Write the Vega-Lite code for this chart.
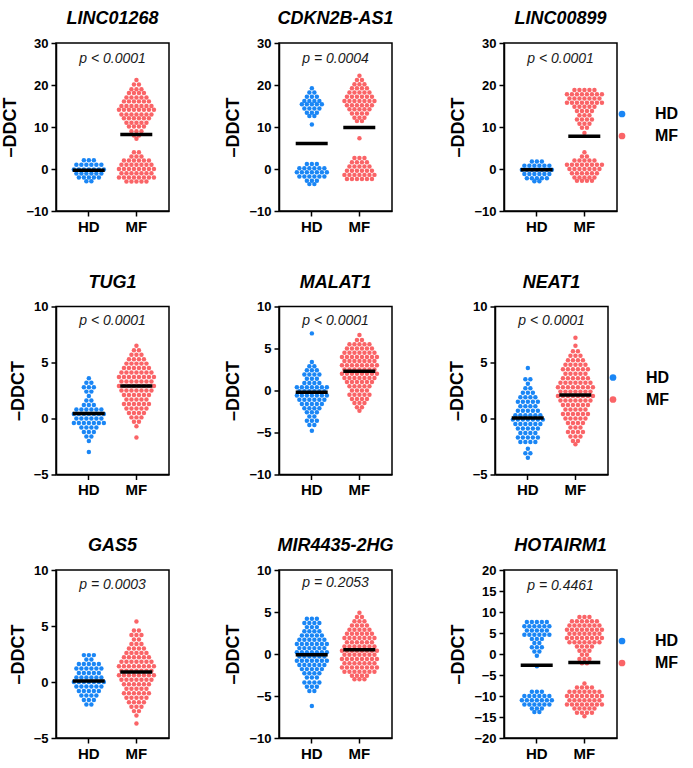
{
"$schema":"https://vega.github.io/schema/vega-lite/v6.json",
"background":"white",
"padding":{"left":1,"top":9,"right":0,"bottom":0},
"config":{
 "view":{"stroke":"black","strokeWidth":1.5},
 "title":{"fontSize":18,"fontWeight":"bold","fontStyle":"italic","font":"Liberation Sans","offset":9,"color":"black"},
 "axis":{"domainColor":"black","domainWidth":1.5,"tickColor":"black","tickWidth":1.5,"tickSize":5,"labelColor":"black","titleColor":"black","labelFont":"Liberation Sans","titleFont":"Liberation Sans","grid":false,"labelPadding":3,"labelFontWeight":"bold"},
 "axisY":{"labelFontSize":13,"titleFontSize":18,"titleFontWeight":"bold","titlePadding":6,"labelOverlap":false},
 "axisX":{"labelFontSize":15,"labelAngle":0}
},
"datasets":{
"means":[
{"g":"LINC01268","c":"HD","v":-0.3},{"g":"LINC01268","c":"MF","v":8.2},
{"g":"CDKN2B-AS1","c":"HD","v":6.1},{"g":"CDKN2B-AS1","c":"MF","v":9.9},
{"g":"LINC00899","c":"HD","v":-0.2},{"g":"LINC00899","c":"MF","v":7.8},
{"g":"TUG1","c":"HD","v":0.45},{"g":"TUG1","c":"MF","v":2.9},
{"g":"MALAT1","c":"HD","v":-0.2},{"g":"MALAT1","c":"MF","v":2.3},
{"g":"NEAT1","c":"HD","v":0.05},{"g":"NEAT1","c":"MF","v":2.1},
{"g":"GAS5","c":"HD","v":0.1},{"g":"GAS5","c":"MF","v":0.9},
{"g":"MIR4435-2HG","c":"HD","v":-0.1},{"g":"MIR4435-2HG","c":"MF","v":0.5},
{"g":"HOTAIRM1","c":"HD","v":-2.7},{"g":"HOTAIRM1","c":"MF","v":-2.0}
],
"pvals":[
{"g":"LINC01268","p":"p < 0.0001"},{"g":"CDKN2B-AS1","p":"p =  0.0004"},{"g":"LINC00899","p":"p < 0.0001"},
{"g":"TUG1","p":"p < 0.0001"},{"g":"MALAT1","p":"p < 0.0001"},{"g":"NEAT1","p":"p < 0.0001"},
{"g":"GAS5","p":"p = 0.0003"},{"g":"MIR4435-2HG","p":"p = 0.2053"},{"g":"HOTAIRM1","p":"p = 0.4461"}
],
"LINC01268_HD":[
{"v":2.1,"j":-2},{"v":2.1,"j":0},{"v":2.1,"j":2},
{"v":1,"j":-5},{"v":1,"j":-3},{"v":1,"j":-1},{"v":1,"j":1},{"v":1,"j":3},{"v":1,"j":5},
{"v":-0.1,"j":-6},{"v":-0.1,"j":-4},{"v":-0.1,"j":-2},{"v":-0.1,"j":0},{"v":-0.1,"j":2},{"v":-0.1,"j":4},{"v":-0.1,"j":6},
{"v":-1.1,"j":-5},{"v":-1.1,"j":-3},{"v":-1.1,"j":-1},{"v":-1.1,"j":1},{"v":-1.1,"j":3},{"v":-1.1,"j":5},
{"v":-2,"j":-4},{"v":-2,"j":-2},{"v":-2,"j":0},{"v":-2,"j":2},{"v":-2,"j":4},
{"v":-2.9,"j":-1},{"v":-2.9,"j":1}
],
"LINC01268_MF":[
{"v":21.2,"j":0},
{"v":20.1,"j":-1},{"v":20.1,"j":1},
{"v":19,"j":-2},{"v":19,"j":0},{"v":19,"j":2},
{"v":18.1,"j":-3},{"v":18.1,"j":-1},{"v":18.1,"j":1},{"v":18.1,"j":3},
{"v":17,"j":-4},{"v":17,"j":-2},{"v":17,"j":0},{"v":17,"j":2},{"v":17,"j":4},
{"v":16.1,"j":-5},{"v":16.1,"j":-3},{"v":16.1,"j":-1},{"v":16.1,"j":1},{"v":16.1,"j":3},{"v":16.1,"j":5},
{"v":15,"j":-6},{"v":15,"j":-4},{"v":15,"j":-2},{"v":15,"j":0},{"v":15,"j":2},{"v":15,"j":4},{"v":15,"j":6},
{"v":14.1,"j":-7},{"v":14.1,"j":-5},{"v":14.1,"j":-3},{"v":14.1,"j":-1},{"v":14.1,"j":1},{"v":14.1,"j":3},{"v":14.1,"j":5},{"v":14.1,"j":7},
{"v":13,"j":-6},{"v":13,"j":-4},{"v":13,"j":-2},{"v":13,"j":0},{"v":13,"j":2},{"v":13,"j":4},{"v":13,"j":6},
{"v":12.1,"j":-5},{"v":12.1,"j":-3},{"v":12.1,"j":-1},{"v":12.1,"j":1},{"v":12.1,"j":3},{"v":12.1,"j":5},
{"v":11,"j":-4},{"v":11,"j":-2},{"v":11,"j":0},{"v":11,"j":2},{"v":11,"j":4},
{"v":10.1,"j":-3},{"v":10.1,"j":-1},{"v":10.1,"j":1},{"v":10.1,"j":3},
{"v":9,"j":-2},{"v":9,"j":0},{"v":9,"j":2},
{"v":8,"j":-1},{"v":8,"j":1},
{"v":7.2,"j":0},
{"v":4,"j":-1},{"v":4,"j":1},
{"v":3,"j":-2},{"v":3,"j":0},{"v":3,"j":2},
{"v":2,"j":-5},{"v":2,"j":-3},{"v":2,"j":-1},{"v":2,"j":1},{"v":2,"j":3},{"v":2,"j":5},
{"v":1,"j":-6},{"v":1,"j":-4},{"v":1,"j":-2},{"v":1,"j":0},{"v":1,"j":2},{"v":1,"j":4},{"v":1,"j":6},
{"v":0,"j":-7},{"v":0,"j":-5},{"v":0,"j":-3},{"v":0,"j":-1},{"v":0,"j":1},{"v":0,"j":3},{"v":0,"j":5},{"v":0,"j":7},
{"v":-1,"j":-6},{"v":-1,"j":-4},{"v":-1,"j":-2},{"v":-1,"j":0},{"v":-1,"j":2},{"v":-1,"j":4},{"v":-1,"j":6},
{"v":-2,"j":-7},{"v":-2,"j":-5},{"v":-2,"j":-3},{"v":-2,"j":-1},{"v":-2,"j":1},{"v":-2,"j":3},{"v":-2,"j":5},{"v":-2,"j":7},
{"v":-3,"j":-4},{"v":-3,"j":-2},{"v":-3,"j":0},{"v":-3,"j":2},{"v":-3,"j":4}
],
"CDKN2B-AS1_HD":[
{"v":19.2,"j":0},
{"v":18.2,"j":-1},{"v":18.2,"j":1},
{"v":17.2,"j":-2},{"v":17.2,"j":0},{"v":17.2,"j":2},
{"v":16.2,"j":-3},{"v":16.2,"j":-1},{"v":16.2,"j":1},{"v":16.2,"j":3},
{"v":15.4,"j":-4},{"v":15.4,"j":-2},{"v":15.4,"j":0},{"v":15.4,"j":2},{"v":15.4,"j":4},
{"v":14.4,"j":-3},{"v":14.4,"j":-1},{"v":14.4,"j":1},{"v":14.4,"j":3},
{"v":13.4,"j":-2},{"v":13.4,"j":0},{"v":13.4,"j":2},
{"v":12.6,"j":-1},{"v":12.6,"j":1},
{"v":10.6,"j":0},
{"v":1.2,"j":-2},{"v":1.2,"j":0},{"v":1.2,"j":2},
{"v":0.2,"j":-5},{"v":0.2,"j":-3},{"v":0.2,"j":-1},{"v":0.2,"j":1},{"v":0.2,"j":3},{"v":0.2,"j":5},
{"v":-0.8,"j":-6},{"v":-0.8,"j":-4},{"v":-0.8,"j":-2},{"v":-0.8,"j":0},{"v":-0.8,"j":2},{"v":-0.8,"j":4},{"v":-0.8,"j":6},
{"v":-1.8,"j":-5},{"v":-1.8,"j":-3},{"v":-1.8,"j":-1},{"v":-1.8,"j":1},{"v":-1.8,"j":3},{"v":-1.8,"j":5},
{"v":-2.8,"j":-2},{"v":-2.8,"j":0},{"v":-2.8,"j":2},
{"v":-3.6,"j":-1},{"v":-3.6,"j":1}
],
"CDKN2B-AS1_MF":[
{"v":22.2,"j":0},
{"v":21.2,"j":-1},{"v":21.2,"j":1},
{"v":20.2,"j":-2},{"v":20.2,"j":0},{"v":20.2,"j":2},
{"v":19.2,"j":-3},{"v":19.2,"j":-1},{"v":19.2,"j":1},{"v":19.2,"j":3},
{"v":18.2,"j":-4},{"v":18.2,"j":-2},{"v":18.2,"j":0},{"v":18.2,"j":2},{"v":18.2,"j":4},
{"v":17.2,"j":-5},{"v":17.2,"j":-3},{"v":17.2,"j":-1},{"v":17.2,"j":1},{"v":17.2,"j":3},{"v":17.2,"j":5},
{"v":16.2,"j":-6},{"v":16.2,"j":-4},{"v":16.2,"j":-2},{"v":16.2,"j":0},{"v":16.2,"j":2},{"v":16.2,"j":4},{"v":16.2,"j":6},
{"v":15.2,"j":-5},{"v":15.2,"j":-3},{"v":15.2,"j":-1},{"v":15.2,"j":1},{"v":15.2,"j":3},{"v":15.2,"j":5},
{"v":14.2,"j":-4},{"v":14.2,"j":-2},{"v":14.2,"j":0},{"v":14.2,"j":2},{"v":14.2,"j":4},
{"v":13.2,"j":-3},{"v":13.2,"j":-1},{"v":13.2,"j":1},{"v":13.2,"j":3},
{"v":12.2,"j":-2},{"v":12.2,"j":0},{"v":12.2,"j":2},
{"v":11.4,"j":-1},{"v":11.4,"j":1},
{"v":7.3,"j":0},
{"v":2.6,"j":-2},{"v":2.6,"j":0},{"v":2.6,"j":2},
{"v":1.6,"j":-3},{"v":1.6,"j":-1},{"v":1.6,"j":1},{"v":1.6,"j":3},
{"v":0.6,"j":-4},{"v":0.6,"j":-2},{"v":0.6,"j":0},{"v":0.6,"j":2},{"v":0.6,"j":4},
{"v":-0.4,"j":-5},{"v":-0.4,"j":-3},{"v":-0.4,"j":-1},{"v":-0.4,"j":1},{"v":-0.4,"j":3},{"v":-0.4,"j":5},
{"v":-1.4,"j":-6},{"v":-1.4,"j":-4},{"v":-1.4,"j":-2},{"v":-1.4,"j":0},{"v":-1.4,"j":2},{"v":-1.4,"j":4},{"v":-1.4,"j":6},
{"v":-2.4,"j":-5},{"v":-2.4,"j":-3},{"v":-2.4,"j":-1},{"v":-2.4,"j":1},{"v":-2.4,"j":3},{"v":-2.4,"j":5}
],
"LINC00899_HD":[
{"v":1.8,"j":-2},{"v":1.8,"j":0},{"v":1.8,"j":2},
{"v":0.8,"j":-5},{"v":0.8,"j":-3},{"v":0.8,"j":-1},{"v":0.8,"j":1},{"v":0.8,"j":3},{"v":0.8,"j":5},
{"v":-0.2,"j":-6},{"v":-0.2,"j":-4},{"v":-0.2,"j":-2},{"v":-0.2,"j":0},{"v":-0.2,"j":2},{"v":-0.2,"j":4},{"v":-0.2,"j":6},
{"v":-1.2,"j":-5},{"v":-1.2,"j":-3},{"v":-1.2,"j":-1},{"v":-1.2,"j":1},{"v":-1.2,"j":3},{"v":-1.2,"j":5},
{"v":-2.2,"j":-4},{"v":-2.2,"j":-2},{"v":-2.2,"j":0},{"v":-2.2,"j":2},{"v":-2.2,"j":4},
{"v":-2.9,"j":-1},{"v":-2.9,"j":1}
],
"LINC00899_MF":[
{"v":18.8,"j":-4},{"v":18.8,"j":-2},{"v":18.8,"j":0},{"v":18.8,"j":2},{"v":18.8,"j":4},
{"v":17.8,"j":-7},{"v":17.8,"j":-5},{"v":17.8,"j":-3},{"v":17.8,"j":-1},{"v":17.8,"j":1},{"v":17.8,"j":3},{"v":17.8,"j":5},{"v":17.8,"j":7},
{"v":16.8,"j":-6},{"v":16.8,"j":-4},{"v":16.8,"j":-2},{"v":16.8,"j":0},{"v":16.8,"j":2},{"v":16.8,"j":4},{"v":16.8,"j":6},
{"v":15.8,"j":-7},{"v":15.8,"j":-5},{"v":15.8,"j":-3},{"v":15.8,"j":-1},{"v":15.8,"j":1},{"v":15.8,"j":3},{"v":15.8,"j":5},{"v":15.8,"j":7},
{"v":14.8,"j":-4},{"v":14.8,"j":-2},{"v":14.8,"j":0},{"v":14.8,"j":2},{"v":14.8,"j":4},
{"v":13.8,"j":-3},{"v":13.8,"j":-1},{"v":13.8,"j":1},{"v":13.8,"j":3},
{"v":12.8,"j":-2},{"v":12.8,"j":0},{"v":12.8,"j":2},
{"v":11.8,"j":-3},{"v":11.8,"j":-1},{"v":11.8,"j":1},{"v":11.8,"j":3},
{"v":10.8,"j":-2},{"v":10.8,"j":0},{"v":10.8,"j":2},
{"v":9.8,"j":-1},{"v":9.8,"j":1},
{"v":8.6,"j":0},
{"v":4,"j":0},
{"v":3,"j":-1},{"v":3,"j":1},
{"v":2,"j":-4},{"v":2,"j":-2},{"v":2,"j":0},{"v":2,"j":2},{"v":2,"j":4},
{"v":1,"j":-7},{"v":1,"j":-5},{"v":1,"j":-3},{"v":1,"j":-1},{"v":1,"j":1},{"v":1,"j":3},{"v":1,"j":5},{"v":1,"j":7},
{"v":0,"j":-6},{"v":0,"j":-4},{"v":0,"j":-2},{"v":0,"j":0},{"v":0,"j":2},{"v":0,"j":4},{"v":0,"j":6},
{"v":-1,"j":-5},{"v":-1,"j":-3},{"v":-1,"j":-1},{"v":-1,"j":1},{"v":-1,"j":3},{"v":-1,"j":5},
{"v":-2,"j":-4},{"v":-2,"j":-2},{"v":-2,"j":0},{"v":-2,"j":2},{"v":-2,"j":4},
{"v":-2.8,"j":-3},{"v":-2.8,"j":-1},{"v":-2.8,"j":1},{"v":-2.8,"j":3}
],
"TUG1_HD":[
{"v":3.6,"j":0},
{"v":3.2,"j":-1},{"v":3.2,"j":1},
{"v":2.8,"j":-2},{"v":2.8,"j":0},{"v":2.8,"j":2},
{"v":2.4,"j":-1},{"v":2.4,"j":1},
{"v":2,"j":0},
{"v":1.6,"j":-1},{"v":1.6,"j":1},
{"v":1.2,"j":-2},{"v":1.2,"j":0},{"v":1.2,"j":2},
{"v":0.8,"j":-5},{"v":0.8,"j":-3},{"v":0.8,"j":-1},{"v":0.8,"j":1},{"v":0.8,"j":3},{"v":0.8,"j":5},
{"v":0.4,"j":-6},{"v":0.4,"j":-4},{"v":0.4,"j":-2},{"v":0.4,"j":0},{"v":0.4,"j":2},{"v":0.4,"j":4},{"v":0.4,"j":6},
{"v":0,"j":-5},{"v":0,"j":-3},{"v":0,"j":-1},{"v":0,"j":1},{"v":0,"j":3},{"v":0,"j":5},
{"v":-0.4,"j":-6},{"v":-0.4,"j":-4},{"v":-0.4,"j":-2},{"v":-0.4,"j":0},{"v":-0.4,"j":2},{"v":-0.4,"j":4},{"v":-0.4,"j":6},
{"v":-0.8,"j":-3},{"v":-0.8,"j":-1},{"v":-0.8,"j":1},{"v":-0.8,"j":3},
{"v":-1.2,"j":-2},{"v":-1.2,"j":0},{"v":-1.2,"j":2},
{"v":-1.6,"j":-1},{"v":-1.6,"j":1},
{"v":-2,"j":0},
{"v":-3,"j":0}
],
"TUG1_MF":[
{"v":6.5,"j":0},
{"v":6.1,"j":-1},{"v":6.1,"j":1},
{"v":5.7,"j":-2},{"v":5.7,"j":0},{"v":5.7,"j":2},
{"v":5.3,"j":-3},{"v":5.3,"j":-1},{"v":5.3,"j":1},{"v":5.3,"j":3},
{"v":4.9,"j":-4},{"v":4.9,"j":-2},{"v":4.9,"j":0},{"v":4.9,"j":2},{"v":4.9,"j":4},
{"v":4.5,"j":-5},{"v":4.5,"j":-3},{"v":4.5,"j":-1},{"v":4.5,"j":1},{"v":4.5,"j":3},{"v":4.5,"j":5},
{"v":4.1,"j":-6},{"v":4.1,"j":-4},{"v":4.1,"j":-2},{"v":4.1,"j":0},{"v":4.1,"j":2},{"v":4.1,"j":4},{"v":4.1,"j":6},
{"v":3.7,"j":-7},{"v":3.7,"j":-5},{"v":3.7,"j":-3},{"v":3.7,"j":-1},{"v":3.7,"j":1},{"v":3.7,"j":3},{"v":3.7,"j":5},{"v":3.7,"j":7},
{"v":3.3,"j":-6},{"v":3.3,"j":-4},{"v":3.3,"j":-2},{"v":3.3,"j":0},{"v":3.3,"j":2},{"v":3.3,"j":4},{"v":3.3,"j":6},
{"v":2.9,"j":-7},{"v":2.9,"j":-5},{"v":2.9,"j":-3},{"v":2.9,"j":-1},{"v":2.9,"j":1},{"v":2.9,"j":3},{"v":2.9,"j":5},{"v":2.9,"j":7},
{"v":2.5,"j":-6},{"v":2.5,"j":-4},{"v":2.5,"j":-2},{"v":2.5,"j":0},{"v":2.5,"j":2},{"v":2.5,"j":4},{"v":2.5,"j":6},
{"v":2.1,"j":-5},{"v":2.1,"j":-3},{"v":2.1,"j":-1},{"v":2.1,"j":1},{"v":2.1,"j":3},{"v":2.1,"j":5},
{"v":1.7,"j":-4},{"v":1.7,"j":-2},{"v":1.7,"j":0},{"v":1.7,"j":2},{"v":1.7,"j":4},
{"v":1.3,"j":-5},{"v":1.3,"j":-3},{"v":1.3,"j":-1},{"v":1.3,"j":1},{"v":1.3,"j":3},{"v":1.3,"j":5},
{"v":0.9,"j":-4},{"v":0.9,"j":-2},{"v":0.9,"j":0},{"v":0.9,"j":2},{"v":0.9,"j":4},
{"v":0.5,"j":-3},{"v":0.5,"j":-1},{"v":0.5,"j":1},{"v":0.5,"j":3},
{"v":0.1,"j":-2},{"v":0.1,"j":0},{"v":0.1,"j":2},
{"v":-0.3,"j":-1},{"v":-0.3,"j":1},
{"v":-0.7,"j":0},
{"v":-1.7,"j":0}
],
"MALAT1_HD":[
{"v":6.8,"j":0},
{"v":3.4,"j":0},
{"v":2.9,"j":-1},{"v":2.9,"j":1},
{"v":2.4,"j":-2},{"v":2.4,"j":0},{"v":2.4,"j":2},
{"v":1.9,"j":-3},{"v":1.9,"j":-1},{"v":1.9,"j":1},{"v":1.9,"j":3},
{"v":1.4,"j":-2},{"v":1.4,"j":0},{"v":1.4,"j":2},
{"v":0.9,"j":-3},{"v":0.9,"j":-1},{"v":0.9,"j":1},{"v":0.9,"j":3},
{"v":0.4,"j":-6},{"v":0.4,"j":-4},{"v":0.4,"j":-2},{"v":0.4,"j":0},{"v":0.4,"j":2},{"v":0.4,"j":4},{"v":0.4,"j":6},
{"v":-0.1,"j":-5},{"v":-0.1,"j":-3},{"v":-0.1,"j":-1},{"v":-0.1,"j":1},{"v":-0.1,"j":3},{"v":-0.1,"j":5},
{"v":-0.6,"j":-6},{"v":-0.6,"j":-4},{"v":-0.6,"j":-2},{"v":-0.6,"j":0},{"v":-0.6,"j":2},{"v":-0.6,"j":4},{"v":-0.6,"j":6},
{"v":-1.1,"j":-5},{"v":-1.1,"j":-3},{"v":-1.1,"j":-1},{"v":-1.1,"j":1},{"v":-1.1,"j":3},{"v":-1.1,"j":5},
{"v":-1.6,"j":-4},{"v":-1.6,"j":-2},{"v":-1.6,"j":0},{"v":-1.6,"j":2},{"v":-1.6,"j":4},
{"v":-2.1,"j":-3},{"v":-2.1,"j":-1},{"v":-2.1,"j":1},{"v":-2.1,"j":3},
{"v":-2.6,"j":-2},{"v":-2.6,"j":0},{"v":-2.6,"j":2},
{"v":-3.1,"j":-1},{"v":-3.1,"j":1},
{"v":-3.6,"j":-2},{"v":-3.6,"j":0},{"v":-3.6,"j":2},
{"v":-4.1,"j":-1},{"v":-4.1,"j":1},
{"v":-4.8,"j":0}
],
"MALAT1_MF":[
{"v":6.6,"j":0},
{"v":6,"j":-1},{"v":6,"j":1},
{"v":5.5,"j":-4},{"v":5.5,"j":-2},{"v":5.5,"j":0},{"v":5.5,"j":2},{"v":5.5,"j":4},
{"v":5,"j":-5},{"v":5,"j":-3},{"v":5,"j":-1},{"v":5,"j":1},{"v":5,"j":3},{"v":5,"j":5},
{"v":4.5,"j":-6},{"v":4.5,"j":-4},{"v":4.5,"j":-2},{"v":4.5,"j":0},{"v":4.5,"j":2},{"v":4.5,"j":4},{"v":4.5,"j":6},
{"v":4,"j":-7},{"v":4,"j":-5},{"v":4,"j":-3},{"v":4,"j":-1},{"v":4,"j":1},{"v":4,"j":3},{"v":4,"j":5},{"v":4,"j":7},
{"v":3.5,"j":-6},{"v":3.5,"j":-4},{"v":3.5,"j":-2},{"v":3.5,"j":0},{"v":3.5,"j":2},{"v":3.5,"j":4},{"v":3.5,"j":6},
{"v":3,"j":-7},{"v":3,"j":-5},{"v":3,"j":-3},{"v":3,"j":-1},{"v":3,"j":1},{"v":3,"j":3},{"v":3,"j":5},{"v":3,"j":7},
{"v":2.5,"j":-6},{"v":2.5,"j":-4},{"v":2.5,"j":-2},{"v":2.5,"j":0},{"v":2.5,"j":2},{"v":2.5,"j":4},{"v":2.5,"j":6},
{"v":2,"j":-7},{"v":2,"j":-5},{"v":2,"j":-3},{"v":2,"j":-1},{"v":2,"j":1},{"v":2,"j":3},{"v":2,"j":5},{"v":2,"j":7},
{"v":1.5,"j":-6},{"v":1.5,"j":-4},{"v":1.5,"j":-2},{"v":1.5,"j":0},{"v":1.5,"j":2},{"v":1.5,"j":4},{"v":1.5,"j":6},
{"v":1,"j":-5},{"v":1,"j":-3},{"v":1,"j":-1},{"v":1,"j":1},{"v":1,"j":3},{"v":1,"j":5},
{"v":0.5,"j":-4},{"v":0.5,"j":-2},{"v":0.5,"j":0},{"v":0.5,"j":2},{"v":0.5,"j":4},
{"v":0,"j":-3},{"v":0,"j":-1},{"v":0,"j":1},{"v":0,"j":3},
{"v":-0.5,"j":-4},{"v":-0.5,"j":-2},{"v":-0.5,"j":0},{"v":-0.5,"j":2},{"v":-0.5,"j":4},
{"v":-1,"j":-3},{"v":-1,"j":-1},{"v":-1,"j":1},{"v":-1,"j":3},
{"v":-1.5,"j":-2},{"v":-1.5,"j":0},{"v":-1.5,"j":2},
{"v":-2,"j":-1},{"v":-2,"j":1},
{"v":-2.4,"j":0}
],
"NEAT1_HD":[
{"v":4.5,"j":0},
{"v":3.5,"j":-1},{"v":3.5,"j":1},
{"v":3.1,"j":0},
{"v":2.7,"j":-1},{"v":2.7,"j":1},
{"v":2.3,"j":-2},{"v":2.3,"j":0},{"v":2.3,"j":2},
{"v":1.9,"j":-3},{"v":1.9,"j":-1},{"v":1.9,"j":1},{"v":1.9,"j":3},
{"v":1.5,"j":-4},{"v":1.5,"j":-2},{"v":1.5,"j":0},{"v":1.5,"j":2},{"v":1.5,"j":4},
{"v":1.1,"j":-3},{"v":1.1,"j":-1},{"v":1.1,"j":1},{"v":1.1,"j":3},
{"v":0.7,"j":-4},{"v":0.7,"j":-2},{"v":0.7,"j":0},{"v":0.7,"j":2},{"v":0.7,"j":4},
{"v":0.3,"j":-5},{"v":0.3,"j":-3},{"v":0.3,"j":-1},{"v":0.3,"j":1},{"v":0.3,"j":3},{"v":0.3,"j":5},
{"v":-0.1,"j":-6},{"v":-0.1,"j":-4},{"v":-0.1,"j":-2},{"v":-0.1,"j":0},{"v":-0.1,"j":2},{"v":-0.1,"j":4},{"v":-0.1,"j":6},
{"v":-0.5,"j":-5},{"v":-0.5,"j":-3},{"v":-0.5,"j":-1},{"v":-0.5,"j":1},{"v":-0.5,"j":3},{"v":-0.5,"j":5},
{"v":-0.9,"j":-4},{"v":-0.9,"j":-2},{"v":-0.9,"j":0},{"v":-0.9,"j":2},{"v":-0.9,"j":4},
{"v":-1.3,"j":-3},{"v":-1.3,"j":-1},{"v":-1.3,"j":1},{"v":-1.3,"j":3},
{"v":-1.7,"j":-4},{"v":-1.7,"j":-2},{"v":-1.7,"j":0},{"v":-1.7,"j":2},{"v":-1.7,"j":4},
{"v":-2.1,"j":-3},{"v":-2.1,"j":-1},{"v":-2.1,"j":1},{"v":-2.1,"j":3},
{"v":-2.7,"j":0},
{"v":-3.1,"j":-1},{"v":-3.1,"j":1},
{"v":-3.5,"j":0}
],
"NEAT1_MF":[
{"v":7.2,"j":0},
{"v":6.5,"j":0},
{"v":6,"j":-1},{"v":6,"j":1},
{"v":5.6,"j":-2},{"v":5.6,"j":0},{"v":5.6,"j":2},
{"v":5.2,"j":-3},{"v":5.2,"j":-1},{"v":5.2,"j":1},{"v":5.2,"j":3},
{"v":4.8,"j":-4},{"v":4.8,"j":-2},{"v":4.8,"j":0},{"v":4.8,"j":2},{"v":4.8,"j":4},
{"v":4.4,"j":-5},{"v":4.4,"j":-3},{"v":4.4,"j":-1},{"v":4.4,"j":1},{"v":4.4,"j":3},{"v":4.4,"j":5},
{"v":4,"j":-4},{"v":4,"j":-2},{"v":4,"j":0},{"v":4,"j":2},{"v":4,"j":4},
{"v":3.6,"j":-5},{"v":3.6,"j":-3},{"v":3.6,"j":-1},{"v":3.6,"j":1},{"v":3.6,"j":3},{"v":3.6,"j":5},
{"v":3.2,"j":-6},{"v":3.2,"j":-4},{"v":3.2,"j":-2},{"v":3.2,"j":0},{"v":3.2,"j":2},{"v":3.2,"j":4},{"v":3.2,"j":6},
{"v":2.8,"j":-7},{"v":2.8,"j":-5},{"v":2.8,"j":-3},{"v":2.8,"j":-1},{"v":2.8,"j":1},{"v":2.8,"j":3},{"v":2.8,"j":5},{"v":2.8,"j":7},
{"v":2.4,"j":-6},{"v":2.4,"j":-4},{"v":2.4,"j":-2},{"v":2.4,"j":0},{"v":2.4,"j":2},{"v":2.4,"j":4},{"v":2.4,"j":6},
{"v":2,"j":-7},{"v":2,"j":-5},{"v":2,"j":-3},{"v":2,"j":-1},{"v":2,"j":1},{"v":2,"j":3},{"v":2,"j":5},{"v":2,"j":7},
{"v":1.6,"j":-6},{"v":1.6,"j":-4},{"v":1.6,"j":-2},{"v":1.6,"j":0},{"v":1.6,"j":2},{"v":1.6,"j":4},{"v":1.6,"j":6},
{"v":1.2,"j":-5},{"v":1.2,"j":-3},{"v":1.2,"j":-1},{"v":1.2,"j":1},{"v":1.2,"j":3},{"v":1.2,"j":5},
{"v":0.8,"j":-4},{"v":0.8,"j":-2},{"v":0.8,"j":0},{"v":0.8,"j":2},{"v":0.8,"j":4},
{"v":0.4,"j":-5},{"v":0.4,"j":-3},{"v":0.4,"j":-1},{"v":0.4,"j":1},{"v":0.4,"j":3},{"v":0.4,"j":5},
{"v":0,"j":-4},{"v":0,"j":-2},{"v":0,"j":0},{"v":0,"j":2},{"v":0,"j":4},
{"v":-0.4,"j":-3},{"v":-0.4,"j":-1},{"v":-0.4,"j":1},{"v":-0.4,"j":3},
{"v":-0.8,"j":-2},{"v":-0.8,"j":0},{"v":-0.8,"j":2},
{"v":-1.2,"j":-3},{"v":-1.2,"j":-1},{"v":-1.2,"j":1},{"v":-1.2,"j":3},
{"v":-1.6,"j":-2},{"v":-1.6,"j":0},{"v":-1.6,"j":2},
{"v":-2,"j":-1},{"v":-2,"j":1},
{"v":-2.3,"j":0}
],
"GAS5_HD":[
{"v":2.4,"j":-2},{"v":2.4,"j":0},{"v":2.4,"j":2},
{"v":2,"j":-1},{"v":2,"j":1},
{"v":1.6,"j":-4},{"v":1.6,"j":-2},{"v":1.6,"j":0},{"v":1.6,"j":2},{"v":1.6,"j":4},
{"v":1.2,"j":-5},{"v":1.2,"j":-3},{"v":1.2,"j":-1},{"v":1.2,"j":1},{"v":1.2,"j":3},{"v":1.2,"j":5},
{"v":0.8,"j":-4},{"v":0.8,"j":-2},{"v":0.8,"j":0},{"v":0.8,"j":2},{"v":0.8,"j":4},
{"v":0.4,"j":-5},{"v":0.4,"j":-3},{"v":0.4,"j":-1},{"v":0.4,"j":1},{"v":0.4,"j":3},{"v":0.4,"j":5},
{"v":0,"j":-6},{"v":0,"j":-4},{"v":0,"j":-2},{"v":0,"j":0},{"v":0,"j":2},{"v":0,"j":4},{"v":0,"j":6},
{"v":-0.4,"j":-5},{"v":-0.4,"j":-3},{"v":-0.4,"j":-1},{"v":-0.4,"j":1},{"v":-0.4,"j":3},{"v":-0.4,"j":5},
{"v":-0.8,"j":-4},{"v":-0.8,"j":-2},{"v":-0.8,"j":0},{"v":-0.8,"j":2},{"v":-0.8,"j":4},
{"v":-1.2,"j":-3},{"v":-1.2,"j":-1},{"v":-1.2,"j":1},{"v":-1.2,"j":3},
{"v":-1.6,"j":-2},{"v":-1.6,"j":0},{"v":-1.6,"j":2},
{"v":-2,"j":-1},{"v":-2,"j":1}
],
"GAS5_MF":[
{"v":5.4,"j":0},
{"v":4.6,"j":-1},{"v":4.6,"j":1},
{"v":4.2,"j":-2},{"v":4.2,"j":0},{"v":4.2,"j":2},
{"v":3.8,"j":-1},{"v":3.8,"j":1},
{"v":3.4,"j":-2},{"v":3.4,"j":0},{"v":3.4,"j":2},
{"v":3,"j":-3},{"v":3,"j":-1},{"v":3,"j":1},{"v":3,"j":3},
{"v":2.6,"j":-4},{"v":2.6,"j":-2},{"v":2.6,"j":0},{"v":2.6,"j":2},{"v":2.6,"j":4},
{"v":2.2,"j":-5},{"v":2.2,"j":-3},{"v":2.2,"j":-1},{"v":2.2,"j":1},{"v":2.2,"j":3},{"v":2.2,"j":5},
{"v":1.8,"j":-6},{"v":1.8,"j":-4},{"v":1.8,"j":-2},{"v":1.8,"j":0},{"v":1.8,"j":2},{"v":1.8,"j":4},{"v":1.8,"j":6},
{"v":1.4,"j":-7},{"v":1.4,"j":-5},{"v":1.4,"j":-3},{"v":1.4,"j":-1},{"v":1.4,"j":1},{"v":1.4,"j":3},{"v":1.4,"j":5},{"v":1.4,"j":7},
{"v":1,"j":-6},{"v":1,"j":-4},{"v":1,"j":-2},{"v":1,"j":0},{"v":1,"j":2},{"v":1,"j":4},{"v":1,"j":6},
{"v":0.6,"j":-7},{"v":0.6,"j":-5},{"v":0.6,"j":-3},{"v":0.6,"j":-1},{"v":0.6,"j":1},{"v":0.6,"j":3},{"v":0.6,"j":5},{"v":0.6,"j":7},
{"v":0.2,"j":-6},{"v":0.2,"j":-4},{"v":0.2,"j":-2},{"v":0.2,"j":0},{"v":0.2,"j":2},{"v":0.2,"j":4},{"v":0.2,"j":6},
{"v":-0.2,"j":-5},{"v":-0.2,"j":-3},{"v":-0.2,"j":-1},{"v":-0.2,"j":1},{"v":-0.2,"j":3},{"v":-0.2,"j":5},
{"v":-0.6,"j":-4},{"v":-0.6,"j":-2},{"v":-0.6,"j":0},{"v":-0.6,"j":2},{"v":-0.6,"j":4},
{"v":-1,"j":-5},{"v":-1,"j":-3},{"v":-1,"j":-1},{"v":-1,"j":1},{"v":-1,"j":3},{"v":-1,"j":5},
{"v":-1.4,"j":-4},{"v":-1.4,"j":-2},{"v":-1.4,"j":0},{"v":-1.4,"j":2},{"v":-1.4,"j":4},
{"v":-1.8,"j":-3},{"v":-1.8,"j":-1},{"v":-1.8,"j":1},{"v":-1.8,"j":3},
{"v":-2.2,"j":-2},{"v":-2.2,"j":0},{"v":-2.2,"j":2},
{"v":-2.6,"j":-1},{"v":-2.6,"j":1},
{"v":-3,"j":0},
{"v":-3.7,"j":0}
],
"MIR4435-2HG_HD":[
{"v":4.2,"j":-2},{"v":4.2,"j":0},{"v":4.2,"j":2},
{"v":3.7,"j":-3},{"v":3.7,"j":-1},{"v":3.7,"j":1},{"v":3.7,"j":3},
{"v":3.2,"j":-2},{"v":3.2,"j":0},{"v":3.2,"j":2},
{"v":2.7,"j":-3},{"v":2.7,"j":-1},{"v":2.7,"j":1},{"v":2.7,"j":3},
{"v":2.2,"j":-4},{"v":2.2,"j":-2},{"v":2.2,"j":0},{"v":2.2,"j":2},{"v":2.2,"j":4},
{"v":1.7,"j":-5},{"v":1.7,"j":-3},{"v":1.7,"j":-1},{"v":1.7,"j":1},{"v":1.7,"j":3},{"v":1.7,"j":5},
{"v":1.2,"j":-6},{"v":1.2,"j":-4},{"v":1.2,"j":-2},{"v":1.2,"j":0},{"v":1.2,"j":2},{"v":1.2,"j":4},{"v":1.2,"j":6},
{"v":0.7,"j":-5},{"v":0.7,"j":-3},{"v":0.7,"j":-1},{"v":0.7,"j":1},{"v":0.7,"j":3},{"v":0.7,"j":5},
{"v":0.2,"j":-6},{"v":0.2,"j":-4},{"v":0.2,"j":-2},{"v":0.2,"j":0},{"v":0.2,"j":2},{"v":0.2,"j":4},{"v":0.2,"j":6},
{"v":-0.3,"j":-5},{"v":-0.3,"j":-3},{"v":-0.3,"j":-1},{"v":-0.3,"j":1},{"v":-0.3,"j":3},{"v":-0.3,"j":5},
{"v":-0.8,"j":-6},{"v":-0.8,"j":-4},{"v":-0.8,"j":-2},{"v":-0.8,"j":0},{"v":-0.8,"j":2},{"v":-0.8,"j":4},{"v":-0.8,"j":6},
{"v":-1.3,"j":-5},{"v":-1.3,"j":-3},{"v":-1.3,"j":-1},{"v":-1.3,"j":1},{"v":-1.3,"j":3},{"v":-1.3,"j":5},
{"v":-1.8,"j":-4},{"v":-1.8,"j":-2},{"v":-1.8,"j":0},{"v":-1.8,"j":2},{"v":-1.8,"j":4},
{"v":-2.3,"j":-3},{"v":-2.3,"j":-1},{"v":-2.3,"j":1},{"v":-2.3,"j":3},
{"v":-2.8,"j":-2},{"v":-2.8,"j":0},{"v":-2.8,"j":2},
{"v":-3.4,"j":-3},{"v":-3.4,"j":-1},{"v":-3.4,"j":1},{"v":-3.4,"j":3},
{"v":-3.9,"j":-2},{"v":-3.9,"j":0},{"v":-3.9,"j":2},
{"v":-4.4,"j":-1},{"v":-4.4,"j":1},
{"v":-6.2,"j":0}
],
"MIR4435-2HG_MF":[
{"v":4.9,"j":0},
{"v":4.4,"j":-1},{"v":4.4,"j":1},
{"v":3.9,"j":-2},{"v":3.9,"j":0},{"v":3.9,"j":2},
{"v":3.4,"j":-3},{"v":3.4,"j":-1},{"v":3.4,"j":1},{"v":3.4,"j":3},
{"v":2.9,"j":-4},{"v":2.9,"j":-2},{"v":2.9,"j":0},{"v":2.9,"j":2},{"v":2.9,"j":4},
{"v":2.4,"j":-5},{"v":2.4,"j":-3},{"v":2.4,"j":-1},{"v":2.4,"j":1},{"v":2.4,"j":3},{"v":2.4,"j":5},
{"v":1.9,"j":-6},{"v":1.9,"j":-4},{"v":1.9,"j":-2},{"v":1.9,"j":0},{"v":1.9,"j":2},{"v":1.9,"j":4},{"v":1.9,"j":6},
{"v":1.4,"j":-5},{"v":1.4,"j":-3},{"v":1.4,"j":-1},{"v":1.4,"j":1},{"v":1.4,"j":3},{"v":1.4,"j":5},
{"v":0.9,"j":-6},{"v":0.9,"j":-4},{"v":0.9,"j":-2},{"v":0.9,"j":0},{"v":0.9,"j":2},{"v":0.9,"j":4},{"v":0.9,"j":6},
{"v":0.4,"j":-7},{"v":0.4,"j":-5},{"v":0.4,"j":-3},{"v":0.4,"j":-1},{"v":0.4,"j":1},{"v":0.4,"j":3},{"v":0.4,"j":5},{"v":0.4,"j":7},
{"v":-0.1,"j":-6},{"v":-0.1,"j":-4},{"v":-0.1,"j":-2},{"v":-0.1,"j":0},{"v":-0.1,"j":2},{"v":-0.1,"j":4},{"v":-0.1,"j":6},
{"v":-0.6,"j":-7},{"v":-0.6,"j":-5},{"v":-0.6,"j":-3},{"v":-0.6,"j":-1},{"v":-0.6,"j":1},{"v":-0.6,"j":3},{"v":-0.6,"j":5},{"v":-0.6,"j":7},
{"v":-1.1,"j":-6},{"v":-1.1,"j":-4},{"v":-1.1,"j":-2},{"v":-1.1,"j":0},{"v":-1.1,"j":2},{"v":-1.1,"j":4},{"v":-1.1,"j":6},
{"v":-1.6,"j":-7},{"v":-1.6,"j":-5},{"v":-1.6,"j":-3},{"v":-1.6,"j":-1},{"v":-1.6,"j":1},{"v":-1.6,"j":3},{"v":-1.6,"j":5},{"v":-1.6,"j":7},
{"v":-2.1,"j":-6},{"v":-2.1,"j":-4},{"v":-2.1,"j":-2},{"v":-2.1,"j":0},{"v":-2.1,"j":2},{"v":-2.1,"j":4},{"v":-2.1,"j":6},
{"v":-2.6,"j":-3},{"v":-2.6,"j":-1},{"v":-2.6,"j":1},{"v":-2.6,"j":3},
{"v":-3,"j":-2},{"v":-3,"j":0},{"v":-3,"j":2}
],
"HOTAIRM1_HD":[
{"v":7.6,"j":-4},{"v":7.6,"j":-2},{"v":7.6,"j":0},{"v":7.6,"j":2},{"v":7.6,"j":4},
{"v":6.6,"j":-5},{"v":6.6,"j":-3},{"v":6.6,"j":-1},{"v":6.6,"j":1},{"v":6.6,"j":3},{"v":6.6,"j":5},
{"v":5.6,"j":-4},{"v":5.6,"j":-2},{"v":5.6,"j":0},{"v":5.6,"j":2},{"v":5.6,"j":4},
{"v":4.6,"j":-5},{"v":4.6,"j":-3},{"v":4.6,"j":-1},{"v":4.6,"j":1},{"v":4.6,"j":3},{"v":4.6,"j":5},
{"v":3.6,"j":-2},{"v":3.6,"j":0},{"v":3.6,"j":2},
{"v":2.6,"j":-1},{"v":2.6,"j":1},
{"v":1.6,"j":-2},{"v":1.6,"j":0},{"v":1.6,"j":2},
{"v":0.6,"j":-1},{"v":0.6,"j":1},
{"v":-0.4,"j":0},
{"v":-2.9,"j":0},
{"v":-9,"j":-2},{"v":-9,"j":0},{"v":-9,"j":2},
{"v":-10,"j":-5},{"v":-10,"j":-3},{"v":-10,"j":-1},{"v":-10,"j":1},{"v":-10,"j":3},{"v":-10,"j":5},
{"v":-11,"j":-6},{"v":-11,"j":-4},{"v":-11,"j":-2},{"v":-11,"j":0},{"v":-11,"j":2},{"v":-11,"j":4},{"v":-11,"j":6},
{"v":-12,"j":-5},{"v":-12,"j":-3},{"v":-12,"j":-1},{"v":-12,"j":1},{"v":-12,"j":3},{"v":-12,"j":5},
{"v":-13,"j":-2},{"v":-13,"j":0},{"v":-13,"j":2},
{"v":-13.8,"j":-1},{"v":-13.8,"j":1}
],
"HOTAIRM1_MF":[
{"v":8.8,"j":-2},{"v":8.8,"j":0},{"v":8.8,"j":2},
{"v":7.8,"j":-5},{"v":7.8,"j":-3},{"v":7.8,"j":-1},{"v":7.8,"j":1},{"v":7.8,"j":3},{"v":7.8,"j":5},
{"v":6.8,"j":-6},{"v":6.8,"j":-4},{"v":6.8,"j":-2},{"v":6.8,"j":0},{"v":6.8,"j":2},{"v":6.8,"j":4},{"v":6.8,"j":6},
{"v":5.8,"j":-7},{"v":5.8,"j":-5},{"v":5.8,"j":-3},{"v":5.8,"j":-1},{"v":5.8,"j":1},{"v":5.8,"j":3},{"v":5.8,"j":5},{"v":5.8,"j":7},
{"v":4.8,"j":-6},{"v":4.8,"j":-4},{"v":4.8,"j":-2},{"v":4.8,"j":0},{"v":4.8,"j":2},{"v":4.8,"j":4},{"v":4.8,"j":6},
{"v":3.8,"j":-7},{"v":3.8,"j":-5},{"v":3.8,"j":-3},{"v":3.8,"j":-1},{"v":3.8,"j":1},{"v":3.8,"j":3},{"v":3.8,"j":5},{"v":3.8,"j":7},
{"v":2.8,"j":-6},{"v":2.8,"j":-4},{"v":2.8,"j":-2},{"v":2.8,"j":0},{"v":2.8,"j":2},{"v":2.8,"j":4},{"v":2.8,"j":6},
{"v":1.8,"j":-3},{"v":1.8,"j":-1},{"v":1.8,"j":1},{"v":1.8,"j":3},
{"v":0.8,"j":-2},{"v":0.8,"j":0},{"v":0.8,"j":2},
{"v":-0.2,"j":-1},{"v":-0.2,"j":1},
{"v":-1.2,"j":-2},{"v":-1.2,"j":0},{"v":-1.2,"j":2},
{"v":-2.2,"j":-1},{"v":-2.2,"j":1},
{"v":-7,"j":0},
{"v":-8,"j":-3},{"v":-8,"j":-1},{"v":-8,"j":1},{"v":-8,"j":3},
{"v":-9,"j":-6},{"v":-9,"j":-4},{"v":-9,"j":-2},{"v":-9,"j":0},{"v":-9,"j":2},{"v":-9,"j":4},{"v":-9,"j":6},
{"v":-10,"j":-7},{"v":-10,"j":-5},{"v":-10,"j":-3},{"v":-10,"j":-1},{"v":-10,"j":1},{"v":-10,"j":3},{"v":-10,"j":5},{"v":-10,"j":7},
{"v":-11,"j":-6},{"v":-11,"j":-4},{"v":-11,"j":-2},{"v":-11,"j":0},{"v":-11,"j":2},{"v":-11,"j":4},{"v":-11,"j":6},
{"v":-12,"j":-7},{"v":-12,"j":-5},{"v":-12,"j":-3},{"v":-12,"j":-1},{"v":-12,"j":1},{"v":-12,"j":3},{"v":-12,"j":5},{"v":-12,"j":7},
{"v":-13,"j":-4},{"v":-13,"j":-2},{"v":-13,"j":0},{"v":-13,"j":2},{"v":-13,"j":4},
{"v":-14,"j":-3},{"v":-14,"j":-1},{"v":-14,"j":1},{"v":-14,"j":3},
{"v":-14.8,"j":0}
]
},
"spacing":37.5,
"resolve":{"legend":{"color":"independent"}},
"vconcat":[
{"hconcat":[
{"title":"LINC01268","width":113,"height":168,
 "layer":[
  {"data":{"name":"LINC01268_HD"},"mark":{"type":"circle","size":20,"opacity":1},"encoding":{"x":{"datum":"HD","type":"nominal","scale":{"type":"band","domain":["HD","MF"],"paddingInner":0.25,"paddingOuter":0.3125},"title":null},"xOffset":{"field":"j","type":"quantitative","scale":{"domain":[-7.2,7.2],"range":[0,36]}},"y":{"field":"v","type":"quantitative","scale":{"domain":[-10,30],"nice":false,"zero":false},"axis":{"values":[-10,0,10,20,30],"title":"–DDCT"}},"color":{"datum":"HD","type":"nominal","scale":{"domain":["HD","MF"],"range":["#1A86F5","#FA6467"]},"legend":null}}},
  {"data":{"name":"LINC01268_MF"},"mark":{"type":"circle","size":20,"opacity":1},"encoding":{"x":{"datum":"MF","type":"nominal","title":null},"xOffset":{"field":"j","type":"quantitative"},"y":{"field":"v","type":"quantitative"},"color":{"datum":"MF","type":"nominal","legend":null}}},
  {"data":{"name":"means"},"transform":[{"filter":"datum.g==='LINC01268'"}],"mark":{"type":"tick","color":"black","opacity":1,"thickness":3.5,"size":32},"encoding":{"x":{"field":"c","type":"nominal","title":null},"y":{"field":"v","type":"quantitative"}}},
  {"data":{"name":"pvals"},"transform":[{"filter":"datum.g==='LINC01268'"}],"mark":{"type":"text","font":"Liberation Sans","fontStyle":"italic","fontSize":14,"color":"#1a1a1a"},"encoding":{"x":{"datum":"HD","type":"nominal","bandPosition":1.167},"y":{"datum":26.3,"type":"quantitative"},"text":{"field":"p","type":"nominal"}}}
 ]},
{"title":"CDKN2B-AS1","width":113,"height":168,
 "layer":[
  {"data":{"name":"CDKN2B-AS1_HD"},"mark":{"type":"circle","size":20,"opacity":1},"encoding":{"x":{"datum":"HD","type":"nominal","scale":{"type":"band","domain":["HD","MF"],"paddingInner":0.25,"paddingOuter":0.3125},"title":null},"xOffset":{"field":"j","type":"quantitative","scale":{"domain":[-7.2,7.2],"range":[0,36]}},"y":{"field":"v","type":"quantitative","scale":{"domain":[-10,30],"nice":false,"zero":false},"axis":{"values":[-10,0,10,20,30],"title":"–DDCT"}},"color":{"datum":"HD","type":"nominal","scale":{"domain":["HD","MF"],"range":["#1A86F5","#FA6467"]},"legend":null}}},
  {"data":{"name":"CDKN2B-AS1_MF"},"mark":{"type":"circle","size":20,"opacity":1},"encoding":{"x":{"datum":"MF","type":"nominal","title":null},"xOffset":{"field":"j","type":"quantitative"},"y":{"field":"v","type":"quantitative"},"color":{"datum":"MF","type":"nominal","legend":null}}},
  {"data":{"name":"means"},"transform":[{"filter":"datum.g==='CDKN2B-AS1'"}],"mark":{"type":"tick","color":"black","opacity":1,"thickness":3.5,"size":32},"encoding":{"x":{"field":"c","type":"nominal","title":null},"y":{"field":"v","type":"quantitative"}}},
  {"data":{"name":"pvals"},"transform":[{"filter":"datum.g==='CDKN2B-AS1'"}],"mark":{"type":"text","font":"Liberation Sans","fontStyle":"italic","fontSize":14,"color":"#1a1a1a"},"encoding":{"x":{"datum":"HD","type":"nominal","bandPosition":1.167},"y":{"datum":26.3,"type":"quantitative"},"text":{"field":"p","type":"nominal"}}}
 ]},
{"title":"LINC00899","width":113,"height":168,
 "layer":[
  {"data":{"name":"LINC00899_HD"},"mark":{"type":"circle","size":20,"opacity":1},"encoding":{"x":{"datum":"HD","type":"nominal","scale":{"type":"band","domain":["HD","MF"],"paddingInner":0.25,"paddingOuter":0.3125},"title":null},"xOffset":{"field":"j","type":"quantitative","scale":{"domain":[-7.2,7.2],"range":[0,36]}},"y":{"field":"v","type":"quantitative","scale":{"domain":[-10,30],"nice":false,"zero":false},"axis":{"values":[-10,0,10,20,30],"title":"–DDCT"}},"color":{"datum":"HD","type":"nominal","scale":{"domain":["HD","MF"],"range":["#1A86F5","#FA6467"]},"legend":{"orient":"none","legendX":110,"legendY":63,"title":null,"symbolType":"circle","symbolSize":45,"labelFontSize":16,"labelFontWeight":"bold","labelFont":"Liberation Sans","labelColor":"black","rowPadding":6,"labelOffset":25}}}},
  {"data":{"name":"LINC00899_MF"},"mark":{"type":"circle","size":20,"opacity":1},"encoding":{"x":{"datum":"MF","type":"nominal","title":null},"xOffset":{"field":"j","type":"quantitative"},"y":{"field":"v","type":"quantitative"},"color":{"datum":"MF","type":"nominal"}}},
  {"data":{"name":"means"},"transform":[{"filter":"datum.g==='LINC00899'"}],"mark":{"type":"tick","color":"black","opacity":1,"thickness":3.5,"size":32},"encoding":{"x":{"field":"c","type":"nominal","title":null},"y":{"field":"v","type":"quantitative"}}},
  {"data":{"name":"pvals"},"transform":[{"filter":"datum.g==='LINC00899'"}],"mark":{"type":"text","font":"Liberation Sans","fontStyle":"italic","fontSize":14,"color":"#1a1a1a"},"encoding":{"x":{"datum":"HD","type":"nominal","bandPosition":1.167},"y":{"datum":26.3,"type":"quantitative"},"text":{"field":"p","type":"nominal"}}}
 ]}
],"spacing":54,"resolve":{"legend":{"color":"independent"}}},
{"hconcat":[
{"title":"TUG1","width":113,"height":168,
 "layer":[
  {"data":{"name":"TUG1_HD"},"mark":{"type":"circle","size":20,"opacity":1},"encoding":{"x":{"datum":"HD","type":"nominal","scale":{"type":"band","domain":["HD","MF"],"paddingInner":0.25,"paddingOuter":0.3125},"title":null},"xOffset":{"field":"j","type":"quantitative","scale":{"domain":[-7.2,7.2],"range":[0,36]}},"y":{"field":"v","type":"quantitative","scale":{"domain":[-5,10],"nice":false,"zero":false},"axis":{"values":[-5,0,5,10],"title":"–DDCT"}},"color":{"datum":"HD","type":"nominal","scale":{"domain":["HD","MF"],"range":["#1A86F5","#FA6467"]},"legend":null}}},
  {"data":{"name":"TUG1_MF"},"mark":{"type":"circle","size":20,"opacity":1},"encoding":{"x":{"datum":"MF","type":"nominal","title":null},"xOffset":{"field":"j","type":"quantitative"},"y":{"field":"v","type":"quantitative"},"color":{"datum":"MF","type":"nominal","legend":null}}},
  {"data":{"name":"means"},"transform":[{"filter":"datum.g==='TUG1'"}],"mark":{"type":"tick","color":"black","opacity":1,"thickness":3.5,"size":32},"encoding":{"x":{"field":"c","type":"nominal","title":null},"y":{"field":"v","type":"quantitative"}}},
  {"data":{"name":"pvals"},"transform":[{"filter":"datum.g==='TUG1'"}],"mark":{"type":"text","font":"Liberation Sans","fontStyle":"italic","fontSize":14,"color":"#1a1a1a"},"encoding":{"x":{"datum":"HD","type":"nominal","bandPosition":1.167},"y":{"datum":8.7,"type":"quantitative"},"text":{"field":"p","type":"nominal"}}}
 ]},
{"title":"MALAT1","width":113,"height":168,
 "layer":[
  {"data":{"name":"MALAT1_HD"},"mark":{"type":"circle","size":20,"opacity":1},"encoding":{"x":{"datum":"HD","type":"nominal","scale":{"type":"band","domain":["HD","MF"],"paddingInner":0.25,"paddingOuter":0.3125},"title":null},"xOffset":{"field":"j","type":"quantitative","scale":{"domain":[-7.2,7.2],"range":[0,36]}},"y":{"field":"v","type":"quantitative","scale":{"domain":[-10,10],"nice":false,"zero":false},"axis":{"values":[-10,-5,0,5,10],"title":"–DDCT"}},"color":{"datum":"HD","type":"nominal","scale":{"domain":["HD","MF"],"range":["#1A86F5","#FA6467"]},"legend":null}}},
  {"data":{"name":"MALAT1_MF"},"mark":{"type":"circle","size":20,"opacity":1},"encoding":{"x":{"datum":"MF","type":"nominal","title":null},"xOffset":{"field":"j","type":"quantitative"},"y":{"field":"v","type":"quantitative"},"color":{"datum":"MF","type":"nominal","legend":null}}},
  {"data":{"name":"means"},"transform":[{"filter":"datum.g==='MALAT1'"}],"mark":{"type":"tick","color":"black","opacity":1,"thickness":3.5,"size":32},"encoding":{"x":{"field":"c","type":"nominal","title":null},"y":{"field":"v","type":"quantitative"}}},
  {"data":{"name":"pvals"},"transform":[{"filter":"datum.g==='MALAT1'"}],"mark":{"type":"text","font":"Liberation Sans","fontStyle":"italic","fontSize":14,"color":"#1a1a1a"},"encoding":{"x":{"datum":"HD","type":"nominal","bandPosition":1.167},"y":{"datum":8.3,"type":"quantitative"},"text":{"field":"p","type":"nominal"}}}
 ]},
{"title":"NEAT1","width":113,"height":168,
 "layer":[
  {"data":{"name":"NEAT1_HD"},"mark":{"type":"circle","size":20,"opacity":1},"encoding":{"x":{"datum":"HD","type":"nominal","scale":{"type":"band","domain":["HD","MF"],"paddingInner":0.25,"paddingOuter":0.3125},"title":null},"xOffset":{"field":"j","type":"quantitative","scale":{"domain":[-7.2,7.2],"range":[0,36]}},"y":{"field":"v","type":"quantitative","scale":{"domain":[-5,10],"nice":false,"zero":false},"axis":{"values":[-5,0,5,10],"title":"–DDCT"}},"color":{"datum":"HD","type":"nominal","scale":{"domain":["HD","MF"],"range":["#1A86F5","#FA6467"]},"legend":{"orient":"none","legendX":110,"legendY":63,"title":null,"symbolType":"circle","symbolSize":45,"labelFontSize":16,"labelFontWeight":"bold","labelFont":"Liberation Sans","labelColor":"black","rowPadding":6,"labelOffset":25}}}},
  {"data":{"name":"NEAT1_MF"},"mark":{"type":"circle","size":20,"opacity":1},"encoding":{"x":{"datum":"MF","type":"nominal","title":null},"xOffset":{"field":"j","type":"quantitative"},"y":{"field":"v","type":"quantitative"},"color":{"datum":"MF","type":"nominal"}}},
  {"data":{"name":"means"},"transform":[{"filter":"datum.g==='NEAT1'"}],"mark":{"type":"tick","color":"black","opacity":1,"thickness":3.5,"size":32},"encoding":{"x":{"field":"c","type":"nominal","title":null},"y":{"field":"v","type":"quantitative"}}},
  {"data":{"name":"pvals"},"transform":[{"filter":"datum.g==='NEAT1'"}],"mark":{"type":"text","font":"Liberation Sans","fontStyle":"italic","fontSize":14,"color":"#1a1a1a"},"encoding":{"x":{"datum":"HD","type":"nominal","bandPosition":1.167},"y":{"datum":8.7,"type":"quantitative"},"text":{"field":"p","type":"nominal"}}}
 ]}
],"spacing":54,"resolve":{"legend":{"color":"independent"}}},
{"hconcat":[
{"title":"GAS5","width":113,"height":168,
 "layer":[
  {"data":{"name":"GAS5_HD"},"mark":{"type":"circle","size":20,"opacity":1},"encoding":{"x":{"datum":"HD","type":"nominal","scale":{"type":"band","domain":["HD","MF"],"paddingInner":0.25,"paddingOuter":0.3125},"title":null},"xOffset":{"field":"j","type":"quantitative","scale":{"domain":[-7.2,7.2],"range":[0,36]}},"y":{"field":"v","type":"quantitative","scale":{"domain":[-5,10],"nice":false,"zero":false},"axis":{"values":[-5,0,5,10],"title":"–DDCT"}},"color":{"datum":"HD","type":"nominal","scale":{"domain":["HD","MF"],"range":["#1A86F5","#FA6467"]},"legend":null}}},
  {"data":{"name":"GAS5_MF"},"mark":{"type":"circle","size":20,"opacity":1},"encoding":{"x":{"datum":"MF","type":"nominal","title":null},"xOffset":{"field":"j","type":"quantitative"},"y":{"field":"v","type":"quantitative"},"color":{"datum":"MF","type":"nominal","legend":null}}},
  {"data":{"name":"means"},"transform":[{"filter":"datum.g==='GAS5'"}],"mark":{"type":"tick","color":"black","opacity":1,"thickness":3.5,"size":32},"encoding":{"x":{"field":"c","type":"nominal","title":null},"y":{"field":"v","type":"quantitative"}}},
  {"data":{"name":"pvals"},"transform":[{"filter":"datum.g==='GAS5'"}],"mark":{"type":"text","font":"Liberation Sans","fontStyle":"italic","fontSize":14,"color":"#1a1a1a"},"encoding":{"x":{"datum":"HD","type":"nominal","bandPosition":1.167},"y":{"datum":8.7,"type":"quantitative"},"text":{"field":"p","type":"nominal"}}}
 ]},
{"title":"MIR4435-2HG","width":113,"height":168,
 "layer":[
  {"data":{"name":"MIR4435-2HG_HD"},"mark":{"type":"circle","size":20,"opacity":1},"encoding":{"x":{"datum":"HD","type":"nominal","scale":{"type":"band","domain":["HD","MF"],"paddingInner":0.25,"paddingOuter":0.3125},"title":null},"xOffset":{"field":"j","type":"quantitative","scale":{"domain":[-7.2,7.2],"range":[0,36]}},"y":{"field":"v","type":"quantitative","scale":{"domain":[-10,10],"nice":false,"zero":false},"axis":{"values":[-10,-5,0,5,10],"title":"–DDCT"}},"color":{"datum":"HD","type":"nominal","scale":{"domain":["HD","MF"],"range":["#1A86F5","#FA6467"]},"legend":null}}},
  {"data":{"name":"MIR4435-2HG_MF"},"mark":{"type":"circle","size":20,"opacity":1},"encoding":{"x":{"datum":"MF","type":"nominal","title":null},"xOffset":{"field":"j","type":"quantitative"},"y":{"field":"v","type":"quantitative"},"color":{"datum":"MF","type":"nominal","legend":null}}},
  {"data":{"name":"means"},"transform":[{"filter":"datum.g==='MIR4435-2HG'"}],"mark":{"type":"tick","color":"black","opacity":1,"thickness":3.5,"size":32},"encoding":{"x":{"field":"c","type":"nominal","title":null},"y":{"field":"v","type":"quantitative"}}},
  {"data":{"name":"pvals"},"transform":[{"filter":"datum.g==='MIR4435-2HG'"}],"mark":{"type":"text","font":"Liberation Sans","fontStyle":"italic","fontSize":14,"color":"#1a1a1a"},"encoding":{"x":{"datum":"HD","type":"nominal","bandPosition":1.167},"y":{"datum":8.4,"type":"quantitative"},"text":{"field":"p","type":"nominal"}}}
 ]},
{"title":"HOTAIRM1","width":113,"height":168,
 "layer":[
  {"data":{"name":"HOTAIRM1_HD"},"mark":{"type":"circle","size":20,"opacity":1},"encoding":{"x":{"datum":"HD","type":"nominal","scale":{"type":"band","domain":["HD","MF"],"paddingInner":0.25,"paddingOuter":0.3125},"title":null},"xOffset":{"field":"j","type":"quantitative","scale":{"domain":[-7.2,7.2],"range":[0,36]}},"y":{"field":"v","type":"quantitative","scale":{"domain":[-20,20],"nice":false,"zero":false},"axis":{"values":[-20,-15,-10,-5,0,5,10,15,20],"title":"–DDCT","labelOverlap":false}},"color":{"datum":"HD","type":"nominal","scale":{"domain":["HD","MF"],"range":["#1A86F5","#FA6467"]},"legend":{"orient":"none","legendX":110,"legendY":63,"title":null,"symbolType":"circle","symbolSize":45,"labelFontSize":16,"labelFontWeight":"bold","labelFont":"Liberation Sans","labelColor":"black","rowPadding":6,"labelOffset":25}}}},
  {"data":{"name":"HOTAIRM1_MF"},"mark":{"type":"circle","size":20,"opacity":1},"encoding":{"x":{"datum":"MF","type":"nominal","title":null},"xOffset":{"field":"j","type":"quantitative"},"y":{"field":"v","type":"quantitative","axis":{"values":[-20,-15,-10,-5,0,5,10,15,20],"title":"–DDCT","labelOverlap":false}},"color":{"datum":"MF","type":"nominal"}}},
  {"data":{"name":"means"},"transform":[{"filter":"datum.g==='HOTAIRM1'"}],"mark":{"type":"tick","color":"black","opacity":1,"thickness":3.5,"size":32},"encoding":{"x":{"field":"c","type":"nominal","title":null},"y":{"field":"v","type":"quantitative","axis":{"values":[-20,-15,-10,-5,0,5,10,15,20],"title":"–DDCT","labelOverlap":false}}}},
  {"data":{"name":"pvals"},"transform":[{"filter":"datum.g==='HOTAIRM1'"}],"mark":{"type":"text","font":"Liberation Sans","fontStyle":"italic","fontSize":14,"color":"#1a1a1a"},"encoding":{"x":{"datum":"HD","type":"nominal","bandPosition":1.167},"y":{"datum":16.3,"type":"quantitative","axis":{"values":[-20,-15,-10,-5,0,5,10,15,20],"title":"–DDCT","labelOverlap":false}},"text":{"field":"p","type":"nominal"}}}
 ]}
],"spacing":54,"resolve":{"legend":{"color":"independent"}}}
]
}
